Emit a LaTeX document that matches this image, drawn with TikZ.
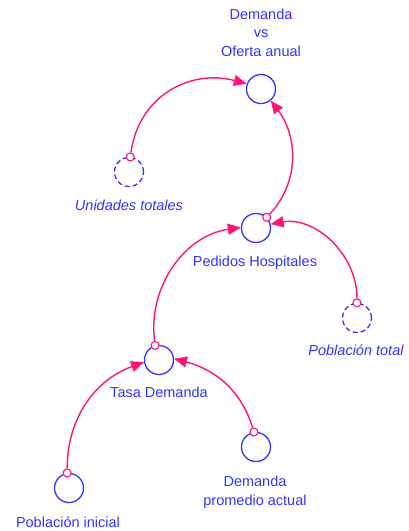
\documentclass[tikz,border=0pt]{standalone}
\usepackage{fontspec}
\setmainfont{Liberation Sans}
\usetikzlibrary{arrows.meta}
\definecolor{vblue}{RGB}{51,51,255}
\definecolor{vpink}{RGB}{255,20,120}
\begin{document}
\begin{tikzpicture}[x=1pt,y=-1pt,
  var/.style={circle,draw=vblue,line width=1.3pt,minimum size=29pt,inner sep=0pt},
  shadowvar/.style={var,dash pattern=on 5pt off 3pt},
  tap/.style={circle,draw=vpink,fill=white,line width=1.1pt,minimum size=8pt,inner sep=0pt},
  lbl/.style={text=vblue,font=\fontsize{14.5}{18.5}\selectfont,align=center,anchor=base,inner sep=0pt},
  ilbl/.style={lbl,font=\fontsize{14.5}{18.5}\selectfont\itshape},
  link/.style={draw=vpink,line width=1.4pt,-{Triangle[length=13pt,width=11pt]}}]
\useasboundingbox (0,0) rectangle (408,531);
% variables
\node[var] (dvo) at (261,89) {};
\node[shadowvar] (ut) at (129,172) {};
\node[var] (ph) at (256,228) {};
\node[shadowvar] (pt) at (357,318) {};
\node[var] (td) at (159,360) {};
\node[var] (pi) at (69,488) {};
\node[var] (dpa) at (256,447) {};
% labels
\node[lbl] (ldvo) at (261,56) {Demanda\\vs\\Oferta anual};
\node[ilbl] (lut) at (129,210) {Unidades totales};
\node[lbl] (lph) at (255,266) {Pedidos Hospitales};
\node[ilbl] (lpt) at (356,355) {Población total};
\node[lbl] (ltd) at (159,397) {Tasa Demanda};
\node[lbl] (ldpa) at (255,505) {Demanda\\promedio actual};
\node[lbl] (lpi) at (68,527) {Población inicial};
% taps
\node[tap] (t1) at (ut.85) {};
\node[tap] (t2) at (ph.45) {};
\node[tap] (t3) at (pt.north) {};
\node[tap] (t4) at (td.105) {};
\node[tap] (t5) at (pi.97) {};
\node[tap] (t6) at (dpa.98) {};
% links
\draw[link] (t1) to[out=82,in=165,looseness=1.1] (dvo.160);
\draw[link] (t2) to[out=47,in=-53] (dvo.-50);
\draw[link] (t4) to[out=97,in=188] (ph.178);
\draw[link] (t3) to[out=90,in=10] (ph.15);
\draw[link] (t5) to[out=90,in=200] (td.188);
\draw[link] (t6) to[out=107,in=-15] (td.5);
\end{tikzpicture}
\end{document}
